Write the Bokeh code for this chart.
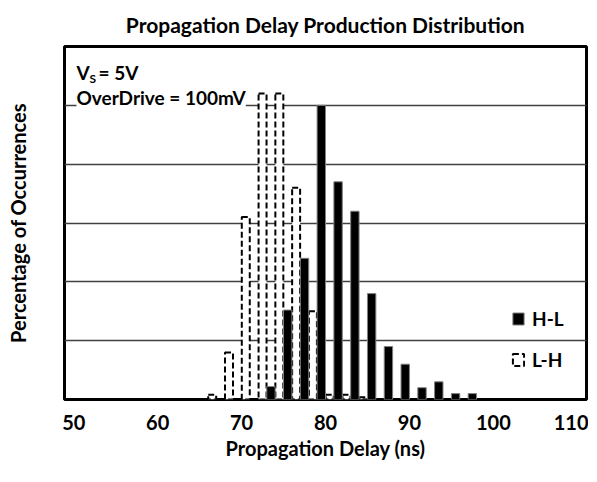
from bokeh.plotting import figure
from bokeh.models import ColumnDataSource, FixedTicker, Label, Legend, LegendItem, Range1d
from bokeh.transform import dodge
from bokeh.embed import file_html
from bokeh.resources import INLINE

# ---- data (percent of occurrences per 2 ns bin) ----
bins = [67, 69, 71, 73, 75, 77, 79, 81, 83, 85, 87, 89, 91, 93, 95, 97]
hl_pct = [0, 0, 0, 1.1, 7.6, 12.0, 25.0, 18.5, 16.0, 9.0, 4.5, 3.0, 1.0, 1.5, 0.5, 0.5]
lh_pct = [0.4, 4.0, 15.5, 26.0, 26.0, 18.0, 7.5, 0.4, 0.4, 0.2, 0, 0, 0, 0, 0, 0]
x_ticks = [50, 60, 70, 80, 90, 100, 110]
y_grid = [0, 5, 10, 15, 20, 25, 30]

FONT = "Lato"

hl_src = ColumnDataSource(dict(bin=[b for b, v in zip(bins, hl_pct) if v > 0],
                               pct=[v for v in hl_pct if v > 0]))
lh_src = ColumnDataSource(dict(bin=[b for b, v in zip(bins, lh_pct) if v > 0],
                               pct=[v for v in lh_pct if v > 0]))

p = figure(width=588, height=466, output_backend="svg", toolbar_location=None,
           x_range=Range1d(48.9, 111.1), y_range=Range1d(0, 30),
           min_border_left=64, min_border_right=2, min_border_top=45, min_border_bottom=67,
           title="Propagation Delay Production Distribution")
p.background_fill_color = "white"
p.border_fill_color = "white"
p.outline_line_color = "black"
p.outline_line_width = 3

p.title.text_font = FONT
p.title.text_font_style = "bold"
p.title.text_font_size = "21px"
p.title.text_color = "black"
p.title.align = "center"
p.title.offset = -9
p.title.standoff = 19

# x axis
p.xaxis.ticker = FixedTicker(ticks=x_ticks)
p.xaxis.axis_label = "Propagation Delay (ns)"
p.xaxis.axis_line_color = None
p.xaxis.major_tick_out = 0
p.xaxis.major_tick_in = 0
p.xaxis.minor_tick_out = 0
p.xaxis.minor_tick_in = 0
p.xaxis.major_label_standoff = 15
p.xaxis.major_label_text_font = FONT
p.xaxis.major_label_text_font_style = "bold"
p.xaxis.major_label_text_font_size = "20px"
p.xaxis.major_label_text_color = "black"
p.xaxis.axis_label_text_font = FONT
p.xaxis.axis_label_text_font_style = "bold"
p.xaxis.axis_label_text_font_size = "20px"
p.xaxis.axis_label_text_color = "black"
p.xaxis.axis_label_standoff = 3
p.xgrid.grid_line_color = None

# y axis (no tick labels)
p.yaxis.ticker = FixedTicker(ticks=y_grid)
p.yaxis.major_label_overrides = {v: "" for v in y_grid}
p.yaxis.axis_label = "Percentage of Occurrences"
p.yaxis.axis_line_color = None
p.yaxis.major_tick_out = 0
p.yaxis.major_tick_in = 0
p.yaxis.minor_tick_out = 0
p.yaxis.minor_tick_in = 0
p.yaxis.major_label_standoff = 0
p.yaxis.axis_label_text_font = FONT
p.yaxis.axis_label_text_font_style = "bold"
p.yaxis.axis_label_text_font_size = "20px"
p.yaxis.axis_label_text_color = "black"
p.yaxis.axis_label_standoff = 35
p.ygrid.grid_line_color = "#404040"
p.ygrid.grid_line_width = 1.5

# bars
r_lh = p.vbar(x=dodge("bin", -0.5, range=p.x_range), top="pct", width=0.95, source=lh_src,
              fill_color="white", line_color="black", line_width=2, line_dash="6 3")
r_hl = p.vbar(x=dodge("bin", 0.5, range=p.x_range), top="pct", width=1.0, source=hl_src,
              fill_color="black", line_color="#808080", line_width=1)

legend = Legend(items=[LegendItem(label="H-L", renderers=[r_hl]),
                       LegendItem(label="L-H", renderers=[r_lh])],
                location=(447, 28), orientation="vertical",
                glyph_width=14, glyph_height=15, label_height=15, spacing=18,
                label_standoff=7, padding=0, margin=0,
                border_line_color=None, background_fill_alpha=0)
legend.label_text_font = FONT
legend.label_text_font_style = "bold"
legend.label_text_font_size = "19px"
legend.label_text_color = "black"
p.add_layout(legend)

# annotations
txt = dict(x_units="screen", y_units="screen", text_font=FONT, text_font_style="bold",
           text_baseline="middle", text_color="black")
p.add_layout(Label(x=12, y=327, text="V", text_font_size="19px", **txt))
p.add_layout(Label(x=25, y=321, text="S", text_font_size="12px", **txt))
p.add_layout(Label(x=34, y=327, text="= 5V", text_font_size="19px", **txt))
p.add_layout(Label(x=12, y=302, text="OverDrive = 100mV", text_font_size="19px",
                   background_fill_color="white", **txt))

open("out.html", "w").write(file_html(p, INLINE))
